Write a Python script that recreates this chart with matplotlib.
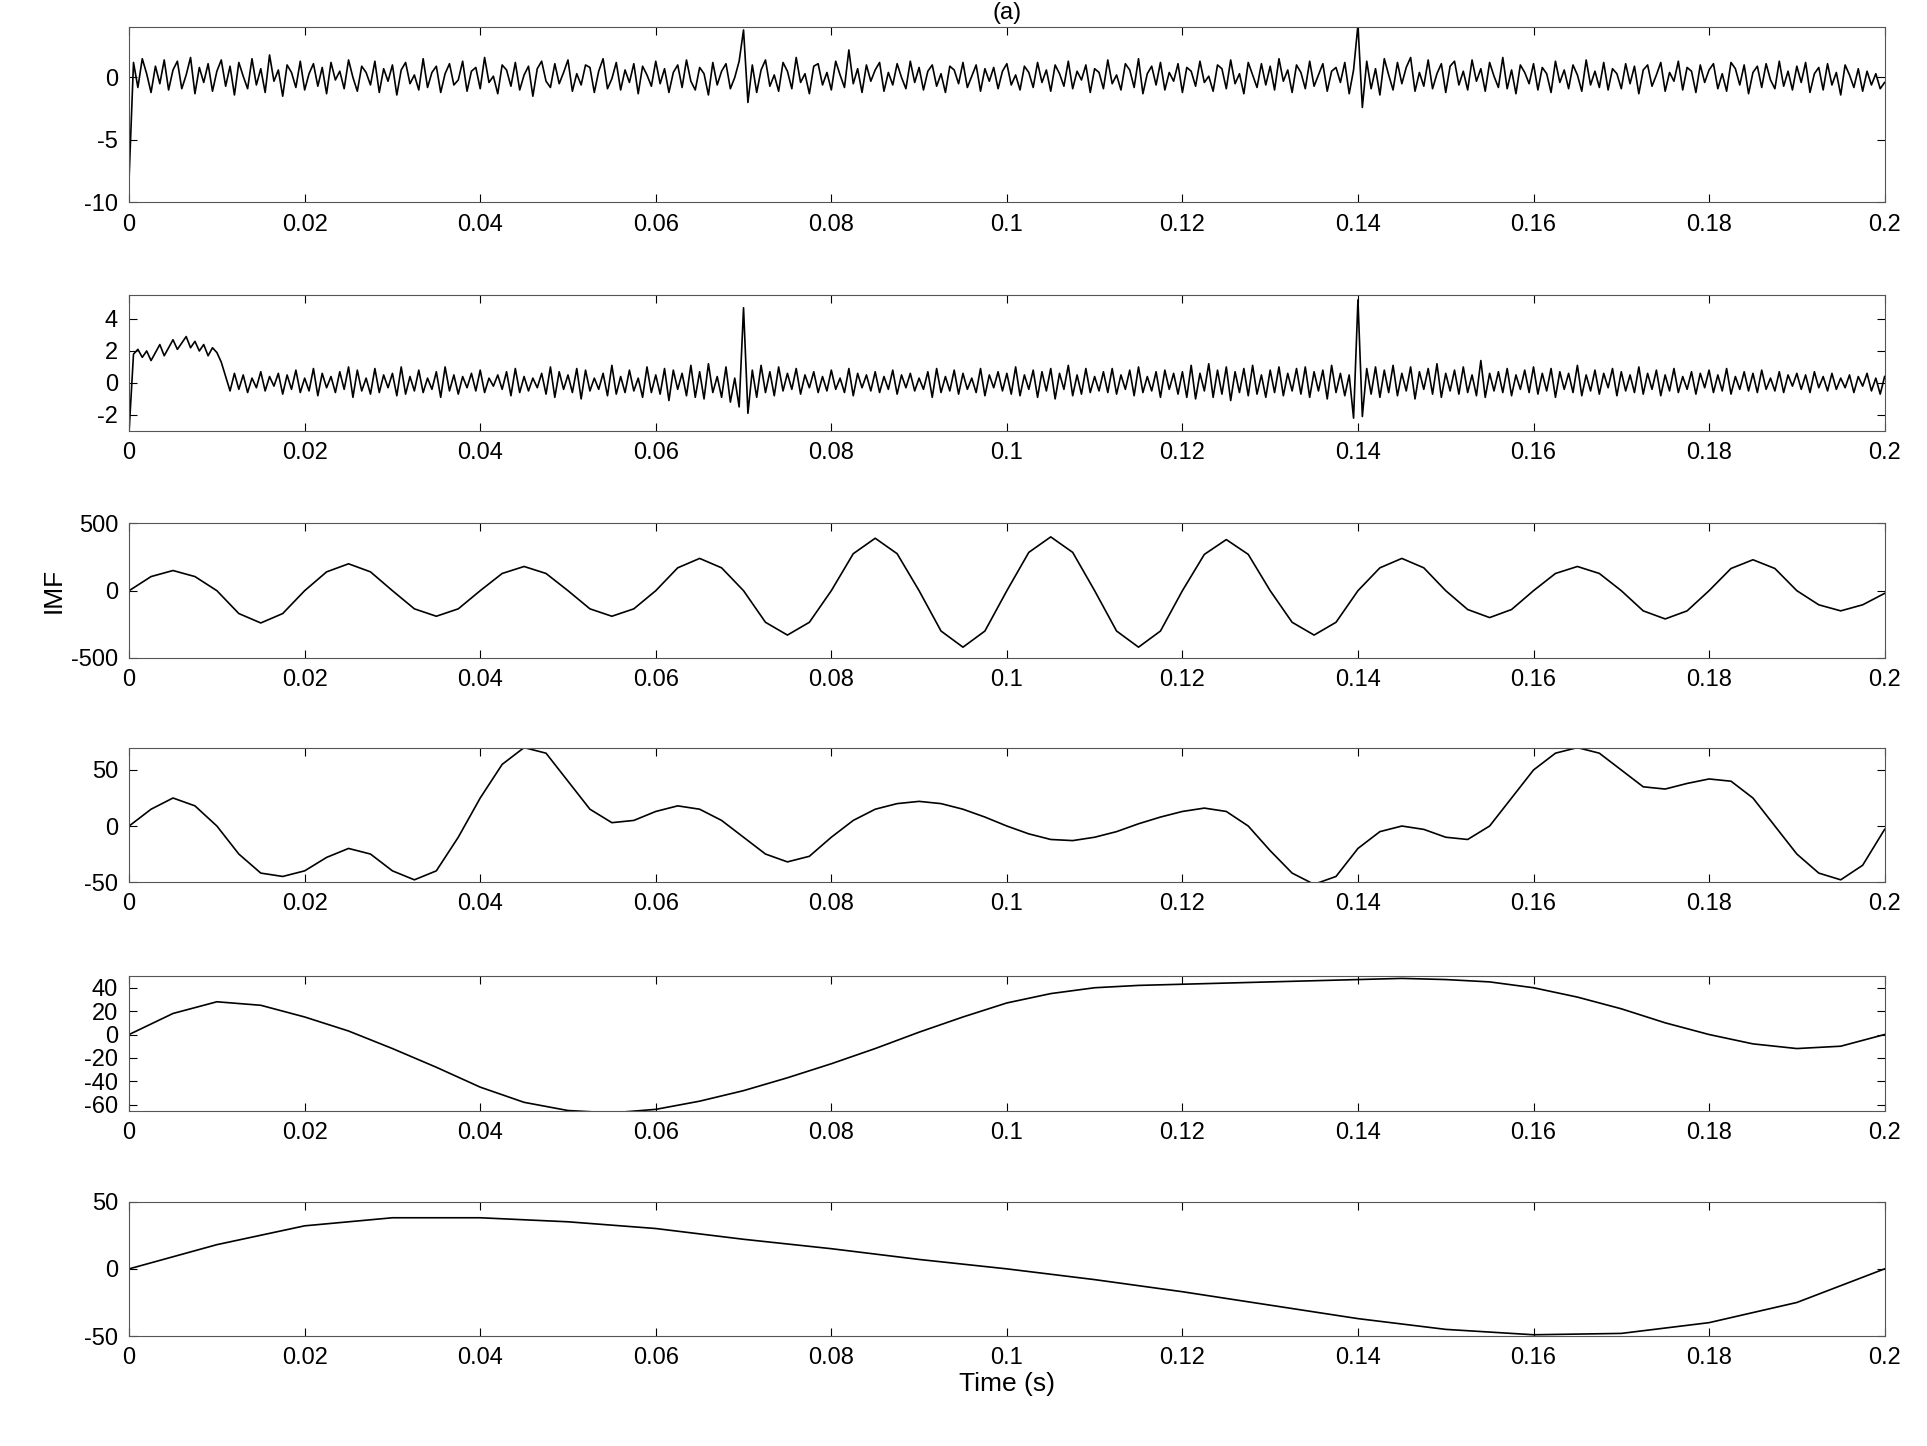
import matplotlib.pyplot as plt
import numpy as np
from matplotlib.ticker import FuncFormatter

plt.rcParams['font.family'] = ['Liberation Sans', 'DejaVu Sans']
plt.rcParams['font.size'] = 13
plt.rcParams['axes.unicode_minus'] = False

# panel 1: raw signal, sampled every 0.0005 s
sig1 = [
    -8, 1.2, -0.8, 1.5, 0.3, -1.2, 0.9, -0.5, 1.4, -1.0, 0.6, 1.3, -0.9, 0.2, 1.6, -1.3, 0.8, -0.4, 1.1, -1.1,
    0.5, 1.4, -0.7, 0.9, -1.4, 1.2, 0.1, -0.9, 1.5, -0.6, 0.7, -1.2, 1.8, -0.3, 0.6, -1.5, 1.0, 0.4, -0.8, 1.3,
    -1.0, 0.3, 1.1, -0.7, 0.8, -1.3, 1.2, -0.2, 0.5, -0.9, 1.4, 0.0, -1.1, 0.9, 0.4, -0.6, 1.3, -1.2, 0.7, -0.3,
    1.0, -1.4, 0.6, 1.2, -0.5, 0.2, -1.0, 1.5, -0.8, 0.4, 0.9, -1.2, 0.3, 1.1, -0.6, -0.2, 1.3, -1.1, 0.5, 0.8,
    -0.9, 1.6, -0.4, 0.1, -1.3, 1.0, 0.6, -0.7, 1.2, -1.0, 0.2, 0.9, -1.5, 0.7, 1.3, -0.3, -0.8, 1.1, -0.5, 0.4,
    1.4, -1.1, 0.3, -0.6, 1.0, 0.8, -1.2, 0.5, 1.5, -0.9, -0.1, 1.2, -1.0, 0.6, -0.4, 1.1, -1.3, 0.9, 0.2, -0.7,
    1.3, -0.5, 0.7, -1.2, 0.4, 1.0, -0.8, 1.4, -0.3, -1.0, 0.8, 0.3, -1.4, 1.2, -0.6, 0.5, 1.1, -0.9, 0.0, 1.3,
    3.8, -2.0, 1.0, -1.2, 0.6, 1.4, -0.7, 0.2, -1.1, 1.2, 0.5, -0.9, 1.6, -0.4, 0.3, -1.3, 0.9, 1.1, -0.6, 0.4,
    -1.0, 1.3, 0.2, -0.8, 2.2, -0.5, 0.7, -1.2, 1.0, -0.3, 0.6, 1.2, -1.1, 0.4, -0.6, 1.1, 0.0, -0.9, 1.3, -0.4,
    0.8, -1.0, 0.5, 1.0, -0.7, 0.3, -1.2, 0.9, 0.6, -0.5, 1.2, -0.8, 0.1, 1.0, -1.1, 0.7, -0.3, 0.8, -0.9, 0.5,
    1.1, -0.6, 0.2, -1.0, 0.9, 0.4, -0.8, 1.2, -0.4, 0.6, -1.1, 1.0, 0.3, -0.7, 1.3, -0.9, 0.5, -0.2, 1.0, -1.2,
    0.7, 0.4, -0.9, 1.4, -0.5, 0.2, -1.0, 1.1, 0.6, -0.8, 1.5, -1.3, 0.3, 0.9, -0.6, 1.2, -1.0, 0.4, -0.3, 1.1,
    -1.2, 0.8, 0.5, -0.7, 1.3, -0.4, 0.1, -1.1, 1.0, 0.7, -0.9, 1.4, -0.5, 0.3, -1.3, 1.2, 0.2, -0.8, 1.1, -0.6,
    0.9, -1.0, 1.5, -0.3, 0.6, -1.2, 1.0, 0.4, -0.9, 1.3, -0.7, 0.2, 1.1, -1.1, 0.5, 0.8, -0.4, 1.2, -1.3, 0.6,
    4.2, -2.4, 1.3, -0.9, 0.7, -1.4, 1.5, 0.2, -1.0, 1.2, -0.5, 0.8, 1.6, -1.1, 0.4, -0.7, 1.4, -0.9, 0.3, 1.1,
    -1.2, 0.9, 1.3, -0.6, 0.5, -1.0, 1.4, -0.3, 0.7, -1.1, 1.2, 0.1, -0.8, 1.6, -0.9, 0.6, -1.3, 1.0, 0.4, -0.5,
    1.1, -1.0, 0.8, 0.3, -1.2, 1.3, -0.4, 0.6, -0.9, 1.0, 0.2, -1.1, 1.4, -0.6, 0.5, -0.8, 1.2, -1.0, 0.7, 0.3,
    -0.9, 1.1, -0.5, 0.9, -1.3, 0.6, 1.0, -0.7, 0.2, 1.2, -1.1, 0.4, -0.3, 1.3, -1.0, 0.8, 0.5, -1.2, 1.0, -0.4,
    0.6, 1.1, -0.9, 0.3, -1.1, 1.2, 0.7, -0.6, 1.0, -1.3, 0.4, 0.9, -0.8, 1.1, -0.2, -0.9, 1.3, -0.7, 0.5, -1.0,
    0.9, -0.4, 1.2, -1.2, 0.3, 0.8, -1.0, 1.1, -0.6, 0.4, -1.4, 1.0, 0.2, -0.8, 0.7, -1.1, 0.5, -0.6, 0.3, -0.9,
    -0.4,
]

# panel 2: first IMF, sampled every 0.0005 s
sig2 = [
    -3.0, 1.8, 2.1, 1.6, 2.0, 1.4, 1.9, 2.4, 1.7, 2.2, 2.7, 2.1, 2.5, 2.9, 2.2, 2.6, 2.0, 2.4, 1.7, 2.2,
    1.9, 1.3, 0.4, -0.5, 0.6, -0.4, 0.5, -0.6, 0.3, -0.3, 0.7, -0.5, 0.4, -0.2, 0.6, -0.7, 0.5, -0.4, 0.8, -0.6,
    0.3, -0.5, 0.9, -0.8, 0.6, -0.3, 0.4, -0.6, 0.7, -0.4, 1.0, -0.9, 0.8, -0.5, 0.3, -0.7, 0.9, -0.6, 0.5, -0.3,
    0.6, -0.8, 1.0, -0.7, 0.4, -0.5, 0.8, -0.6, 0.3, -0.4, 0.7, -0.9, 1.0, -0.5, 0.5, -0.7, 0.4, -0.3, 0.6, -0.5,
    0.8, -0.6, 0.3, -0.2, 0.5, -0.4, 0.7, -0.8, 0.9, -0.6, 0.4, -0.5, 0.3, -0.3, 0.6, -0.7, 1.0, -0.9, 0.7, -0.4,
    0.5, -0.6, 0.9, -1.0, 0.8, -0.5, 0.3, -0.4, 0.6, -0.8, 1.1, -0.7, 0.4, -0.6, 0.8, -0.5, 0.3, -0.9, 1.0, -0.6,
    0.5, -0.7, 0.9, -1.1, 0.8, -0.4, 0.6, -0.8, 1.1, -0.9, 0.7, -1.0, 1.2, -0.6, 0.4, -0.9, 1.0, -1.2, 0.3, -1.5,
    4.7, -1.9, 0.8, -0.9, 1.1, -0.6, 0.7, -0.8, 1.0, -0.5, 0.6, -0.4, 0.9, -0.7, 0.5, -0.3, 0.7, -0.6, 0.4, -0.5,
    0.8, -0.4, 0.3, -0.6, 0.9, -0.8, 0.6, -0.3, 0.5, -0.5, 0.7, -0.6, 0.4, -0.4, 0.8, -0.7, 0.5, -0.3, 0.6, -0.5,
    0.3, -0.4, 0.7, -0.9, 0.9, -0.6, 0.4, -0.5, 0.8, -0.7, 0.6, -0.4, 0.3, -0.6, 0.9, -0.8, 0.5, -0.3, 0.7, -0.5,
    0.6, -0.7, 1.0, -0.8, 0.5, -0.4, 0.8, -0.9, 0.7, -0.5, 0.9, -1.0, 0.6, -0.4, 1.1, -0.8, 0.5, -0.7, 0.9, -0.6,
    0.4, -0.5, 0.7, -0.6, 0.9, -0.7, 0.5, -0.4, 0.8, -0.8, 1.0, -0.6, 0.4, -0.5, 0.7, -0.9, 0.8, -0.4, 0.6, -0.7,
    0.7, -0.9, 1.1, -1.0, 0.6, -0.5, 1.2, -0.9, 0.8, -0.7, 1.0, -1.1, 0.7, -0.6, 0.9, -0.8, 1.1, -0.7, 0.5, -0.9,
    0.8, -0.6, 1.0, -0.8, 0.6, -0.5, 0.9, -0.7, 1.0, -0.9, 0.7, -0.5, 0.8, -1.0, 1.1, -0.6, 0.6, -0.8, 0.5, -2.2,
    5.2, -2.1, 0.9, -0.7, 1.0, -0.9, 0.8, -0.6, 1.1, -0.8, 0.6, -0.5, 1.0, -1.0, 0.7, -0.4, 0.9, -0.7, 1.2, -0.9,
    0.6, -0.5, 0.8, -0.7, 1.0, -0.6, 0.5, -0.8, 1.4, -0.9, 0.6, -0.5, 0.7, -0.6, 0.9, -0.8, 0.5, -0.4, 0.8, -0.6,
    1.0, -0.7, 0.6, -0.5, 0.9, -0.9, 0.7, -0.4, 0.6, -0.6, 1.1, -0.8, 0.5, -0.5, 0.8, -0.7, 0.6, -0.3, 0.9, -0.8,
    0.7, -0.5, 0.5, -0.6, 1.0, -0.7, 0.6, -0.4, 0.8, -0.8, 0.5, -0.5, 0.9, -0.6, 0.4, -0.4, 0.7, -0.7, 0.6, -0.3,
    0.8, -0.6, 0.5, -0.5, 0.9, -0.7, 0.4, -0.4, 0.7, -0.5, 0.6, -0.6, 0.8, -0.4, 0.3, -0.5, 0.7, -0.6, 0.5, -0.2,
    0.6, -0.4, 0.5, -0.6, 0.7, -0.3, 0.4, -0.5, 0.6, -0.4, 0.3, -0.3, 0.5, -0.6, 0.4, -0.2, 0.6, -0.5, 0.3, -0.7,
    0.4,
]

# panel 3, every 0.0025 s
imf3 = [
    0, 105, 150, 105, 0, -170, -240, -170,
    0, 140, 200, 140, 0, -135, -190, -135,
    0, 128, 180, 128, 0, -135, -190, -135,
    0, 170, 240, 170, 0, -235, -330, -235,
    0, 275, 390, 275, 0, -300, -420, -300,
    0, 285, 400, 285, 0, -300, -420, -300,
    0, 270, 380, 270, 0, -235, -330, -235,
    0, 170, 240, 170, 0, -140, -200, -140,
    0, 128, 180, 128, 0, -150, -210, -150,
    0, 165, 230, 165, 0, -105, -150, -105,
    -20,
]

# panel 4, every 0.0025 s
imf4 = [
    0, 15, 25, 18, 0, -25, -42, -45, -40, -28, -20, -25, -40, -48, -40, -10,
    25, 55, 70, 65, 40, 15, 3, 5, 13, 18, 15, 5, -10, -25, -32, -27,
    -10, 5, 15, 20, 22, 20, 15, 8, 0, -7, -12, -13, -10, -5, 2, 8,
    13, 16, 13, 0, -22, -42, -52, -45, -20, -5, 0, -3, -10, -12, 0, 25,
    50, 65, 70, 65, 50, 35, 33, 38, 42, 40, 25, 0, -25, -42, -48, -35,
    -3,
]

# panel 5, every 0.005 s
imf5 = [0, 18, 28, 25, 15, 3, -12, -28, -45, -58, -65, -67, -64, -57, -48, -37,
        -25, -12, 2, 15, 27, 35, 40, 42, 43, 44, 45, 46, 47, 48, 47, 45,
        40, 32, 22, 10, 0, -8, -12, -10, 0]

# panel 6 (residual), every 0.01 s
imf6 = [0, 18, 32, 38, 38, 35, 30, 22, 15, 7, 0, -8, -17, -27, -37, -45, -49, -48, -40, -25, 0]

series = [sig1, sig2, imf3, imf4, imf5, imf6]
ylims = [(-10, 4), (-3, 5.5), (-500, 500), (-50, 70), (-65, 50), (-50, 50)]
yticks = [[-10, -5, 0], [-2, 0, 2, 4], [-500, 0, 500], [-50, 0, 50],
          [-60, -40, -20, 0, 20, 40], [-50, 0, 50]]
boxes = [(0.860, 0.981), (0.702, 0.796), (0.545, 0.638), (0.390, 0.483), (0.232, 0.325), (0.076, 0.169)]

fig = plt.figure(figsize=(19.27, 14.46), dpi=100)
xt = np.arange(0, 0.2001, 0.02)
for i, vals in enumerate(series):
    b, t = boxes[i]
    ax = fig.add_axes([0.067, b, 0.911, t - b])
    x = np.linspace(0, 0.2, len(vals))
    ax.plot(x, vals, color='black', lw=1.2)
    ax.set_xlim(0, 0.2)
    ax.set_ylim(*ylims[i])
    ax.set_yticks(yticks[i])
    ax.set_xticks(xt)
    ax.xaxis.set_major_formatter(FuncFormatter(lambda v, p: '%g' % round(v, 2)))
    ax.tick_params(direction='in', top=True, right=True, labelsize=17, length=6, pad=8)
    for s in ax.spines.values():
        s.set_color('#555555')
    if i == 0:
        ax.set_title('(a)', fontsize=17)
    if i == 2:
        ax.set_ylabel('IMF', fontsize=19)
    if i == 5:
        ax.set_xlabel('Time (s)', fontsize=19, labelpad=2)

fig.savefig('out.png', dpi=100)
